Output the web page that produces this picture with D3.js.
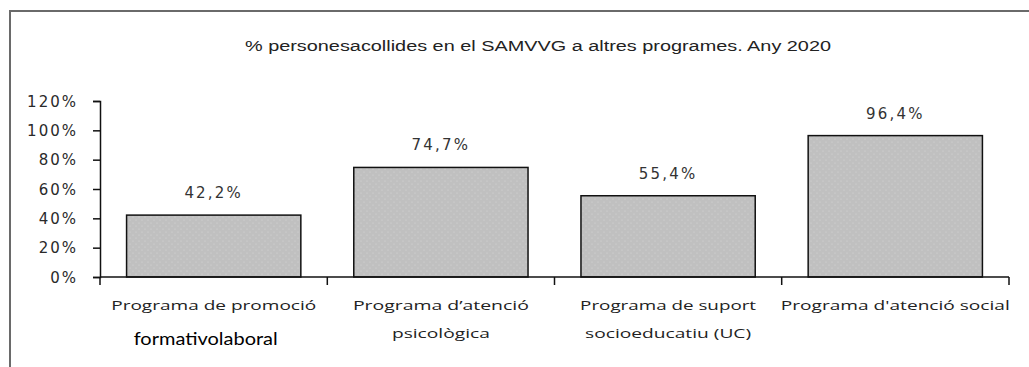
<!DOCTYPE html>
<html>
<head>
<meta charset="utf-8">
<script src="https://cdn.jsdelivr.net/npm/d3@7"></script>
<style>
  html, body { margin: 0; padding: 0; background: #fff; }
  svg { display: block; }
</style>
</head>
<body>
<div id="chart"></div>
<script>
// Programme names (first and second line of each axis label)
const categories = [
  "Programa de promoció formativolaboral",
  "Programa d’atenció psicològica",
  "Programa de suport socioeducatiu (UC)",
  "Programa d'atenció social"
];
const labelLine1 = ["Programa de promoció", "Programa d’atenció", "Programa de suport", "Programa d'atenció social"];
const labelLine2 = ["formativolaboral", "psicològica", "socioeducatiu (UC)", ""];
// Share of women attended in SAMVVG who joined each programme (%)
const values = [42.2, 74.7, 55.4, 96.4];
const valueLabels = ["42,2%", "74,7%", "55,4%", "96,4%"];
const yTicks = [0, 20, 40, 60, 80, 100, 120];
const yTickLabels = ["0%", "20%", "40%", "60%", "80%", "100%", "120%"];
const title = "%  personesacollides en el SAMVVG a altres programes. Any 2020";

const W = 1029, H = 367;
const svg = d3.select("#chart").append("svg").attr("width", W).attr("height", H);

// dotted grey fill for the bars
const defs = svg.append("defs");
const pat = defs.append("pattern").attr("id", "dots")
  .attr("patternUnits", "userSpaceOnUse").attr("width", 6).attr("height", 6);
pat.append("rect").attr("width", 6).attr("height", 6).attr("fill", "#c0c0c0");
pat.append("circle").attr("cx", 1).attr("cy", 1).attr("r", 0.6).attr("fill", "#d8d8d8");
pat.append("circle").attr("cx", 4).attr("cy", 4).attr("r", 0.6).attr("fill", "#d8d8d8");

// frame (top and left edges visible)
svg.append("path").attr("d", `M10,${H + 5} L10,11 L${W + 5},11`)
  .attr("fill", "none").attr("stroke", "#6a6a6a").attr("stroke-width", 2);

const x = d3.scaleBand().domain(categories).range([100, 1009]).paddingInner(0.233).paddingOuter(0.117);
const y = d3.scaleLinear().domain([0, 120]).range([277, 101]);

// title
svg.append("text").attr("x", 538).attr("y", 51).attr("text-anchor", "middle")
  .attr("font-family", "Liberation Sans Narrow, Liberation Sans, sans-serif").attr("font-size", 14)
  .attr("fill", "#222").attr("textLength", 586).attr("lengthAdjust", "spacingAndGlyphs")
  .text(title);

// bars
svg.append("g").selectAll("rect").data(values).join("rect")
  .attr("x", (d, i) => x(categories[i]))
  .attr("y", d => y(d))
  .attr("width", x.bandwidth())
  .attr("height", d => y(0) - y(d))
  .attr("fill", "url(#dots)").attr("stroke", "#111").attr("stroke-width", 1.5);

// value labels
svg.append("g").selectAll("text").data(values).join("text")
  .attr("x", (d, i) => x(categories[i]) + x.bandwidth() / 2)
  .attr("y", d => y(d) - 17)
  .attr("text-anchor", "middle")
  .attr("font-family", "DejaVu Sans, sans-serif").attr("font-size", 15)
  .attr("letter-spacing", 2.2).attr("fill", "#333")
  .text((d, i) => valueLabels[i]);

// y axis
const yAxis = svg.append("g").attr("transform", "translate(100,0)")
  .call(d3.axisLeft(y).tickValues(yTicks).tickSize(7).tickPadding(15)
    .tickFormat((d, i) => yTickLabels[i]));
yAxis.select(".domain").attr("stroke", "#111").attr("stroke-width", 1.5);
yAxis.selectAll(".tick line").attr("stroke", "#111").attr("stroke-width", 1.5);
yAxis.selectAll(".tick text").attr("font-family", "DejaVu Sans, sans-serif")
  .attr("font-size", 15).attr("letter-spacing", 2).attr("fill", "#2a2a2a")
  .attr("dy", "0.35em");

// x axis: baseline with boundary ticks between programmes
const bounds = [100].concat(categories.map(c => x(c) + x.bandwidth() + x.step() * x.paddingInner() / 2));
bounds[bounds.length - 1] = 1009;
svg.append("line").attr("x1", 100).attr("x2", 1009).attr("y1", y(0)).attr("y2", y(0))
  .attr("stroke", "#111").attr("stroke-width", 1.5);
svg.append("g").selectAll("line").data(bounds).join("line")
  .attr("x1", d => d).attr("x2", d => d).attr("y1", y(0)).attr("y2", y(0) + 8)
  .attr("stroke", "#111").attr("stroke-width", 1.5);

// category labels
const line1Widths = [205, 176, 176, 229];
svg.append("g").selectAll("text").data(labelLine1).join("text")
  .attr("x", (d, i) => x(categories[i]) + x.bandwidth() / 2)
  .attr("y", 310)
  .attr("text-anchor", "middle")
  .attr("font-family", "Open Sans, sans-serif").attr("font-size", 13)
  .attr("fill", "#222")
  .attr("textLength", (d, i) => line1Widths[i]).attr("lengthAdjust", "spacingAndGlyphs")
  .text(d => d);

const line2Widths = [144, 98, 166, 0];
const line2Y = [345, 338, 338, 338];
svg.append("g").selectAll("text").data(labelLine2).join("text")
  .attr("x", (d, i) => x(categories[i]) + x.bandwidth() / 2 + (i === 0 ? -8 : 0))
  .attr("y", (d, i) => line2Y[i])
  .attr("text-anchor", "middle")
  .attr("font-family", (d, i) => i === 0 ? "Lato, sans-serif" : "Open Sans, sans-serif")
  .attr("font-size", (d, i) => i === 0 ? 18 : 13)
  .attr("fill", (d, i) => i === 0 ? "#000" : "#222")
  .each(function (d, i) {
    if (line2Widths[i] > 0) d3.select(this).attr("textLength", line2Widths[i])
      .attr("lengthAdjust", "spacingAndGlyphs");
  })
  .text(d => d);
</script>
</body>
</html>
